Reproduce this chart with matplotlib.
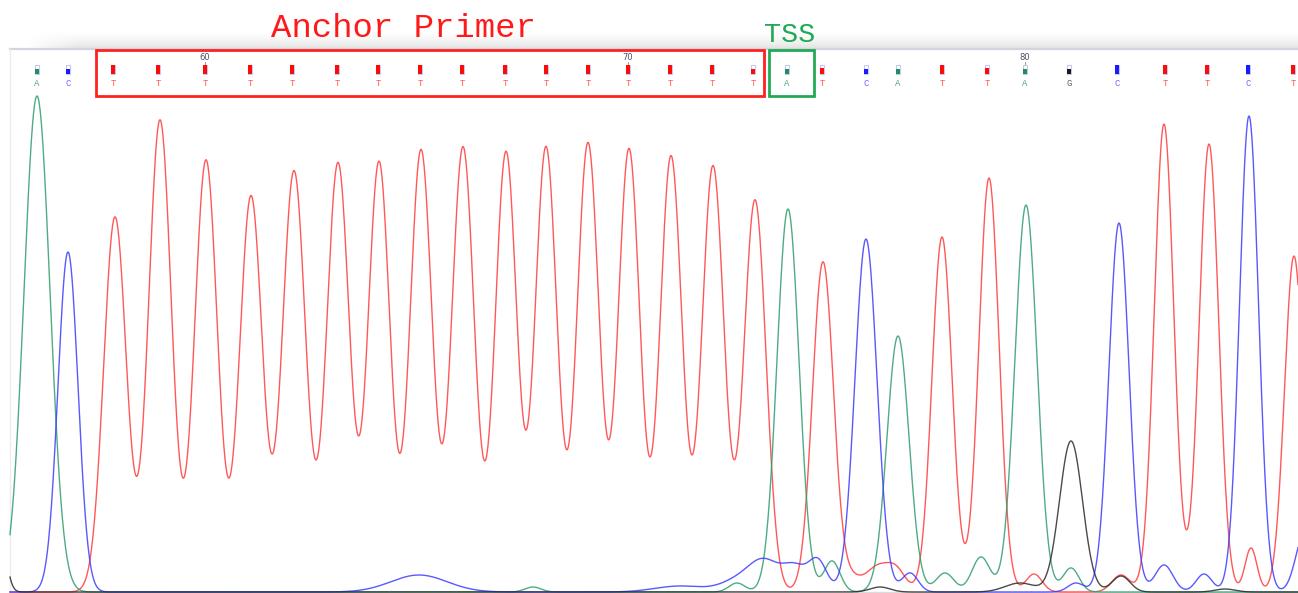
import numpy as np
import matplotlib
matplotlib.use("Agg")
import matplotlib.pyplot as plt
from matplotlib.patches import Rectangle

# ---- base calls (scan position of each call) ----
bases = list("AC" + "T" * 16 + "ATCATTAGCTTCT")
call_x = [37, 68, 113, 158, 205, 250, 292, 337, 378, 420, 462, 505, 546, 588,
          628, 670, 712, 753, 787, 822, 866, 898, 942, 987, 1025, 1069, 1117,
          1165, 1207, 1248, 1293]
call_q = [0.5, 0.5] + [1.0] * 15 + [0.5, 0.5, 0.6, 0.5, 0.5, 1.0, 0.6, 0.5,
                                     0.45, 1.0, 1.0, 1.0, 1.0, 1.0]
first_pos = 56

# ---- trace peaks per dye channel: scan position, height, width ----
a_pos = [37, 788, 898, 1026, 737, 832, 945, 981, 1071, 533]
a_amp = [496, 383, 256, 387, 9, 31, 19, 35, 24, 5]
a_sig = [13, 11, 11, 11, 8, 8, 9, 9, 8, 8]

c_pos = [68, 866, 1119, 1249, 419, 680, 740, 765, 795, 818, 910, 1076, 1164,
         1204, 1305]
c_amp = [340, 353, 369, 476, 17, 6, 12, 28, 24, 30, 19, 9, 27, 18, 60]
c_sig = [10, 11, 10, 9.5, 28, 25, 18, 15, 12, 9, 8, 8, 9, 8, 9]

t_pos = [115, 160, 206, 251, 294, 338, 379, 421, 463, 506, 546, 588, 629, 671,
         713, 755, 823, 942, 989, 1164, 1209, 1294, 852, 876, 895, 1034, 1121,
         1251]
t_amp = [375, 472, 432, 396, 421, 429, 430, 442, 445, 440, 445, 449, 443, 436,
         426, 392, 330, 355, 414, 468, 448, 336, 14, 22, 24, 18, 17, 44]
t_sig = [11.3, 11.3, 11.3, 11.3, 11.5, 11.3, 10.9, 11.0, 11.2, 10.8, 10.9,
         11.0, 10.8, 10.9, 11.0, 11.0,
         10.5, 10, 10, 9.7, 9.7, 9.5, 10, 10, 10, 8, 9, 6]

g_pos = [1071, 0, 1020, 1121, 880, 1225]
g_amp = [151, 60, 9, 16, 5, 3]
g_sig = [11.5, 6, 15, 9, 10, 10]

trace_col = {"A": "#2f9d6f", "C": "#3c3cff", "T": "#ff3b3b", "G": "#2a2a2a"}
mark_col = {"A": "#1f8f5f", "C": "#1a1aff", "T": "#ff0a0a", "G": "#1a1a1a"}
text_col = {"A": "#4fa884", "C": "#6a6aff", "T": "#ff5a5a", "G": "#606060"}


def trace(x, pos, amp, sig):
    y = np.zeros_like(x)
    for p, a, s in zip(pos, amp, sig):
        y += a * np.exp(-(x - p) ** 2 / (2 * s ** 2))
    return y


W, H = 1298, 593
fig = plt.figure(figsize=(W / 100, H / 100), dpi=100)
ax = fig.add_axes([0, 0, 1, 1])
ax.set_xlim(0, W)
ax.set_ylim(-1, 592)
ax.axis("off")


def py(v):
    # screen row -> height
    return 592 - v


# shaded band above the trace panel
band = np.linspace(0, 1, 40)[:, None] * np.ones((1, 300))
fade = np.clip(np.linspace(-0.5, 25, 300), 0, 1)[None, :]
alpha = (band ** 1.6) * fade
rgba = np.zeros(band.shape + (4,))
rgba[..., :3] = 0.89
rgba[..., 3] = alpha
ax.imshow(rgba, extent=(0, W, py(49), py(30)), origin="upper",
          aspect="auto", zorder=0, interpolation="bilinear")

# panel frame
ax.plot([10, W], [py(49), py(49)], color="#d4d4de", lw=1.6, zorder=1)
ax.plot([10, 10], [py(49), -1], color="#ececf2", lw=1.0, zorder=1)
ax.plot([10, W], [0, 0], color="#dcdcdc", lw=1.0, zorder=1)

# chromatogram traces
x = np.arange(10, W + 0.5, 0.5)
for key, pos, amp, sig in [("T", t_pos, t_amp, t_sig),
                           ("A", a_pos, a_amp, a_sig),
                           ("C", c_pos, c_amp, c_sig),
                           ("G", g_pos, g_amp, g_sig)]:
    ax.plot(x, trace(x, pos, amp, sig), color=trace_col[key], lw=1.0,
            alpha=0.85, zorder=3)

# base call markers, letters and position ticks
for i, (b, bx, q) in enumerate(zip(bases, call_x, call_q)):
    ax.add_patch(Rectangle((bx - 2, py(73.5)), 4, 9, fill=False,
                           ec="#c8c8ee", lw=0.8, zorder=4))
    ax.add_patch(Rectangle((bx - 2, py(73.5)), 4, 9 * q, fc=mark_col[b],
                           ec="none", zorder=5))
    ax.text(bx, py(83), b, color=text_col[b], fontsize=6.5,
            family="Liberation Mono", ha="center", va="center", zorder=5)
    if (first_pos + i) % 10 == 0:
        ax.text(bx, py(57.5), str(first_pos + i), color="#505068",
                fontsize=6, ha="center", va="center", zorder=5)
        ax.plot([bx, bx], [py(62), py(63.5)], color="#8080a0", lw=0.6)

# primer and TSS annotations
anchor_l, anchor_r = call_x[2] - 17, call_x[17] + 11
ax.add_patch(Rectangle((anchor_l, py(96)), anchor_r - anchor_l, 46,
                       fill=False, ec="#ff2020", lw=2, zorder=6))
tss_l, tss_r = call_x[18] - 18, call_x[18] + 27
ax.add_patch(Rectangle((tss_l, py(96)), tss_r - tss_l, 46,
                       fill=False, ec="#22aa55", lw=2, zorder=6))
ax.text(271, py(37), "Anchor Primer", color="#ff1a1a", fontsize=24.5,
        family="Liberation Mono", ha="left", va="baseline", zorder=7)
ax.text(764, py(42), "TSS", color="#1faa55", fontsize=20.5,
        family="Liberation Mono", ha="left", va="baseline", zorder=7)

fig.savefig("out.png", dpi=100)
